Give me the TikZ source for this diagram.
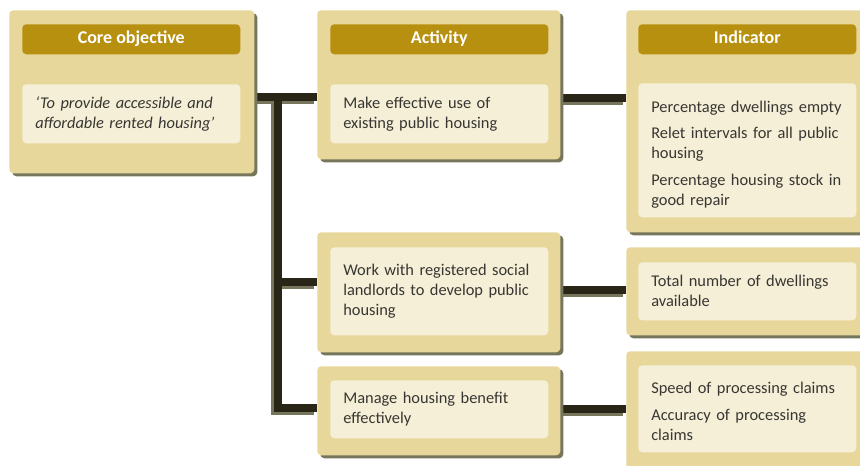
\documentclass[tikz,border=0pt]{standalone}
\usepackage{fontspec}
\setmainfont{Carlito}
\usetikzlibrary{shadows,calc}

\definecolor{panelc}{HTML}{E8D79B}
\definecolor{headc}{HTML}{B8900F}
\definecolor{innerc}{HTML}{F5EFD7}
\definecolor{shadowc}{HTML}{76765C}
\definecolor{linec}{HTML}{2A2617}
\definecolor{txtc}{HTML}{383632}

\pgfdeclarelayer{background}
\pgfsetlayers{background,main}

\tikzset{
  panel/.style 2 args={fill=panelc, rounded corners=3pt, anchor=north west,
    inner sep=0pt, minimum width=#1*0.75pt, minimum height=#2*0.75pt,
    drop shadow={shadow xshift=2.25pt, shadow yshift=-2.25pt, fill=shadowc, opacity=1}},
  headbar/.style={fill=headc, rounded corners=3pt, anchor=north west, inner sep=0pt,
    minimum width=218*0.75pt, minimum height=30*0.75pt, text=white,
    text height=9.5pt, text depth=2.5pt,
    font=\bfseries\fontsize{13.5}{15}\selectfont},
  textpanel/.style={fill=innerc, rounded corners=3pt, anchor=north west,
    inner xsep=0pt, inner ysep=0pt, text width=218*0.75pt, align=left,
    execute at begin node={\leftskip=9.75pt\hyphenpenalty=10000},
    text=txtc, font=\fontsize{12.3}{15}\selectfont, minimum height=#1*0.75pt},
  link/.style={line width=6pt, draw=linec},
  linkshade/.style={line width=6pt, draw=shadowc,
    transform canvas={xshift=-2.25pt, yshift=-2.25pt}},
}

\begin{document}
\begin{tikzpicture}[x=0.75pt, y=-0.75pt]
\useasboundingbox (0,0) rectangle (860,466);
\clip (0,0) rectangle (860,466);

% column 1: core objective
\node[panel={245}{163}] (core) at (9,10) {};
\node[headbar] (coreh) at (22,24) {Core objective};
\node[textpanel=59] (coret) at (22,84)
  {\itshape ‘To provide accessible and\\affordable rented housing’};

% column 2: activities
\node[panel={243}{149}] (act1) at (317,10) {};
\node[headbar] (acth) at (330,24) {Activity};
\node[textpanel=59] (act1t) at (330,84) {Make effective use of\\existing public housing};

\node[panel={243}{120}] (act2) at (317,232) {};
\node[textpanel=88] (act2t) at (330,247)
  {Work with registered social\\landlords to develop public\\housing};

\node[panel={243}{89}] (act3) at (317,366) {};
\node[textpanel=58] (act3t) at (330,380) {Manage housing benefit\\effectively};

% column 3: indicators
\node[panel={250}{222}] (ind1) at (626,10) {};
\node[headbar] (indh) at (638,24) {Indicator};
\node[textpanel=134] (ind1t) at (638,83)
  {\rule{0pt}{15pt}Percentage dwellings empty\\[5pt]Relet intervals for all public\\housing\\[5pt]%
   Percentage housing stock in\\good repair};

\node[panel={250}{88}] (ind2) at (626,247) {};
\node[textpanel=58] (ind2t) at (638,262) {Total number of dwellings\\available};

\node[panel={250}{130}] (ind3) at (626,351) {};
\node[textpanel=87] (ind3t) at (638,365)
  {\rule{0pt}{12pt}Speed of processing claims\\[5pt]Accuracy of processing\\claims};

% junction points and row levels of the connectors
\coordinate (j0) at (278,97);
\coordinate (j1) at (278,282);
\coordinate (j2) at (278,408);
\coordinate (r1) at (0,98);
\coordinate (r2) at (0,290);
\coordinate (r3) at (0,409);

\begin{pgfonlayer}{background}
  \foreach \s in {linkshade, link} {
    \draw[\s] (core.east |- j0) -- (act1.west |- j0);
    \draw[\s] (j0) -- ([yshift=-3pt]j2);
    \draw[\s] (j1) -- (act2.west |- j1);
    \draw[\s] ([xshift=-3pt]j2) -- (act3.west |- j2);
    \draw[\s] (act1.east |- r1) -- (ind1.west |- r1);
    \draw[\s] (act2.east |- r2) -- (ind2.west |- r2);
    \draw[\s] (act3.east |- r3) -- (ind3.west |- r3);
  }
\end{pgfonlayer}
\end{tikzpicture}
\end{document}
